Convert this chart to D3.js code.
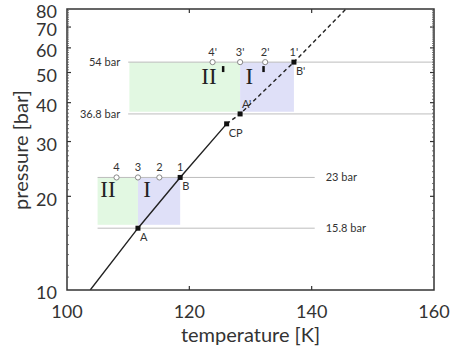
<!DOCTYPE html>
<html>
<head>
<meta charset="utf-8">
<script src="https://cdn.jsdelivr.net/npm/d3@7"></script>
<style>
  body { margin: 0; background: #fff; }
  svg text { font-family: Lato, "Open Sans", sans-serif; fill: #333; }
</style>
</head>
<body>
<div id="chart"></div>
<script>
// phase boundary points [temperature K, pressure bar]
const curveSolid = [[103.8, 10], [111.6, 15.8], [118.5, 23], [126.1, 34.2]];
const curveDashed = [[126.1, 34.2], [128.3, 36.8], [137.1, 54], [145.6, 80]];

// marked points on the curve
const dots = [
  { name: "A", t: 111.6, p: 15.8 },
  { name: "B", t: 118.5, p: 23 },
  { name: "CP", t: 126.1, p: 34.2 },
  { name: "A'", t: 128.3, p: 36.8 },
  { name: "B'", t: 137.1, p: 54 }
];

// isobars
const isobars = [
  { label: "15.8 bar", p: 15.8, t0: 105, t1: 140.5, side: "right" },
  { label: "23 bar", p: 23, t0: 105, t1: 140.5, side: "right" },
  { label: "36.8 bar", p: 36.8, t0: 110, t1: 160, side: "left" },
  { label: "54 bar", p: 54, t0: 110, t1: 160, side: "left" }
];

// regions I and II (lt, lp = where the name sits)
const regions = [
  { name: "II", t0: 105.0, t1: 111.6, p0: 16.2, p1: 23, lt: 106.7, lp: 21.1, color: "#e2f8e2" },
  { name: "I", t0: 111.6, t1: 118.5, p0: 16.2, p1: 23, lt: 113.1, lp: 21.1, color: "#dfe0f8" },
  { name: "II", t0: 110.2, t1: 128.3, p0: 37.4, p1: 54, lt: 123.2, lp: 48.7, color: "#e2f8e2", prime: true },
  { name: "I", t0: 128.3, t1: 137.1, p0: 37.4, p1: 54, lt: 129.8, lp: 48.7, color: "#dfe0f8", prime: true }
];

// sample points along the isobars
const samples = [
  { label: "4", t: 108.1, p: 23, open: true },
  { label: "3", t: 111.6, p: 23, open: true },
  { label: "2", t: 115.1, p: 23, open: true },
  { label: "1", t: 118.5, p: 23, open: false },
  { label: "4'", t: 123.8, p: 54, open: true },
  { label: "3'", t: 128.3, p: 54, open: true },
  { label: "2'", t: 132.4, p: 54, open: true },
  { label: "1'", t: 137.1, p: 54, open: false }
];

const xTicks = [100, 120, 140, 160];
const yTicks = [10, 20, 30, 40, 50, 60, 70, 80];

const W = 459, H = 351;
const margin = { top: 9, right: 25, bottom: 61, left: 67 };
const width = W - margin.left - margin.right;
const height = H - margin.top - margin.bottom;

const svg = d3.select("#chart").append("svg")
  .attr("width", W).attr("height", H);
const g = svg.append("g")
  .attr("transform", `translate(${margin.left},${margin.top})`);

const x = d3.scaleLinear().domain([100, 160]).range([0, width]);
const y = d3.scaleLog().domain([10, 80]).range([height, 0]);

g.append("clipPath").attr("id", "clip")
  .append("rect").attr("width", width).attr("height", height);

// regions
g.selectAll(".region").data(regions).enter().append("rect")
  .attr("class", "region")
  .attr("x", d => x(d.t0))
  .attr("y", d => y(d.p1))
  .attr("width", d => x(d.t1) - x(d.t0))
  .attr("height", d => y(d.p0) - y(d.p1))
  .attr("fill", d => d.color);

// isobars
g.selectAll(".isobar").data(isobars).enter().append("line")
  .attr("class", "isobar")
  .attr("x1", d => x(d.t0)).attr("x2", d => x(d.t1))
  .attr("y1", d => y(d.p)).attr("y2", d => y(d.p))
  .attr("stroke", "#bdbdbd").attr("stroke-width", 1);

g.selectAll(".isobar-label").data(isobars).enter().append("text")
  .attr("class", "isobar-label")
  .attr("x", d => d.side === "right" ? x(d.t1) + 11 : x(d.t0) - 8)
  .attr("y", d => y(d.p))
  .attr("dy", "0.35em")
  .attr("text-anchor", d => d.side === "right" ? "start" : "end")
  .style("font-size", "11px")
  .text(d => d.label);

// curve
const line = d3.line().x(d => x(d[0])).y(d => y(d[1]));
g.append("path").datum(curveSolid)
  .attr("d", line).attr("fill", "none")
  .attr("stroke", "#222").attr("stroke-width", 1.4)
  .attr("clip-path", "url(#clip)");
g.append("path").datum(curveDashed)
  .attr("d", line).attr("fill", "none")
  .attr("stroke", "#222").attr("stroke-width", 1.4)
  .attr("stroke-dasharray", "4,3")
  .attr("clip-path", "url(#clip)");

// region names
g.selectAll(".region-name").data(regions).enter().append("text")
  .attr("class", "region-name")
  .attr("x", d => x(d.lt))
  .attr("y", d => y(d.lp))
  .attr("text-anchor", "middle")
  .attr("dy", "0.35em")
  .style("font-family", "'Liberation Serif', 'DejaVu Serif', serif")
  .style("font-size", "23px")
  .style("fill", "#222")
  .text(d => d.name);
// primes
g.selectAll(".prime").data(regions.filter(d => d.prime)).enter().append("rect")
  .attr("class", "prime")
  .attr("x", d => x(d.lt) + 13)
  .attr("y", d => y(d.lp) - 10)
  .attr("width", 2.5).attr("height", 6)
  .attr("fill", "#111");

// sample points
g.selectAll(".sample").data(samples.filter(d => d.open)).enter().append("circle")
  .attr("class", "sample")
  .attr("cx", d => x(d.t)).attr("cy", d => y(d.p))
  .attr("r", 2.6)
  .attr("fill", "#fff").attr("stroke", "#888").attr("stroke-width", 1);
g.selectAll(".sample-label").data(samples).enter().append("text")
  .attr("class", "sample-label")
  .attr("x", d => x(d.t))
  .attr("y", d => y(d.p) - 6)
  .attr("text-anchor", "middle")
  .style("font-size", "11px")
  .text(d => d.label);

// dots on the curve
g.selectAll(".dot").data(dots).enter().append("rect")
  .attr("class", "dot")
  .attr("x", d => x(d.t) - 2.5).attr("y", d => y(d.p) - 2.5)
  .attr("width", 5).attr("height", 5)
  .attr("fill", "#111");
g.selectAll(".dot-label").data(dots).enter().append("text")
  .attr("class", "dot-label")
  .attr("x", d => x(d.t) + 2)
  .attr("y", d => d.name === "A'" ? y(d.p) - 6 : y(d.p) + 13)
  .style("font-size", "11px")
  .text(d => d.name);

// frame
g.append("rect").attr("width", width).attr("height", height)
  .attr("fill", "none").attr("stroke", "#333").attr("stroke-width", 1.5);

// ticks (inward, mirrored)
const minor = d3.range(11, 80).filter(v => v % 10 !== 0);
const yt = g.append("g");
[[0, 1], [width, -1]].forEach(([px, dir]) => {
  yt.selectAll(null).data(yTicks.slice(1, -1)).enter().append("line")
    .attr("x1", px).attr("x2", px + dir * 4)
    .attr("y1", d => y(d)).attr("y2", d => y(d))
    .attr("stroke", "#333").attr("stroke-width", 1.2);
  yt.selectAll(null).data(minor).enter().append("line")
    .attr("x1", px).attr("x2", px + dir * 2)
    .attr("y1", d => y(d)).attr("y2", d => y(d))
    .attr("stroke", "#555").attr("stroke-width", 0.8);
});
[[height, -1], [0, 1]].forEach(([py, dir]) => {
  g.selectAll(null).data(xTicks.slice(1, -1)).enter().append("line")
    .attr("x1", d => x(d)).attr("x2", d => x(d))
    .attr("y1", py).attr("y2", py + dir * 4)
    .attr("stroke", "#333").attr("stroke-width", 1.2);
});

// tick labels
g.selectAll(".ylab").data(yTicks).enter().append("text")
  .attr("class", "ylab")
  .attr("x", -10).attr("y", d => y(d) + 3)
  .attr("dy", "0.35em").attr("text-anchor", "end")
  .style("font-size", "18px")
  .text(d => d);
g.selectAll(".xlab").data(xTicks).enter().append("text")
  .attr("class", "xlab")
  .attr("x", d => x(d)).attr("y", height + 28)
  .attr("text-anchor", "middle")
  .style("font-size", "18px")
  .text(d => d);

// axis titles
g.append("text")
  .attr("x", width / 2).attr("y", height + 52)
  .attr("text-anchor", "middle")
  .style("font-size", "20px")
  .text("temperature [K]");
g.append("text")
  .attr("transform", "rotate(-90)")
  .attr("x", -(150 - margin.top)).attr("y", -margin.left + 28)
  .attr("text-anchor", "middle")
  .style("font-size", "20px")
  .text("pressure [bar]");
</script>
</body>
</html>
